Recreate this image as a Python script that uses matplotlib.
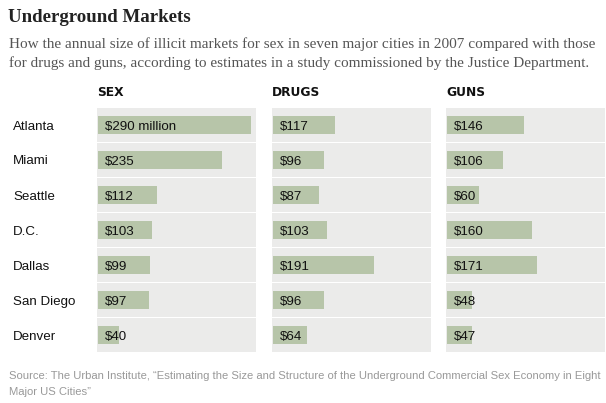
import matplotlib.pyplot as plt

cities = ['Atlanta', 'Miami', 'Seattle', 'D.C.', 'Dallas', 'San Diego', 'Denver']
sex = [290, 235, 112, 103, 99, 97, 40]
drugs = [117, 96, 87, 103, 191, 96, 64]
guns = [146, 106, 60, 160, 171, 48, 47]
headers = ['SEX', 'DRUGS', 'GUNS']

W, H = 606, 403
fig = plt.figure(figsize=(W / 100, H / 100), dpi=100)
fig.patch.set_facecolor('white')

bar_col = '#b7c5a9'
bg_col = '#ebebea'

def px(x, y):
    # pixel coords -> figure fraction
    return x / W, 1 - y / H

# title + subtitle
fig.text(*px(8, 17), 'Underground Markets', family='Liberation Serif', weight='bold',
         fontsize=13.6, color='#222222', va='center')
fig.text(*px(9, 44), 'How the annual size of illicit markets for sex in seven major cities in 2007 compared with those',
         family='Liberation Serif', fontsize=11, color='#555555', va='center')
fig.text(*px(9, 63), 'for drugs and guns, according to estimates in a study commissioned by the Justice Department.',
         family='Liberation Serif', fontsize=11, color='#555555', va='center')

top, rowh = 107, 35
lefts = [97, 272, 446]
panel_w = 159

for i, c in enumerate(cities):
    fig.text(*px(13, top + rowh * i + 19.5), c, family='Liberation Sans', fontsize=9.6,
             color='#111111', va='center')

for vals, name, left in zip([sex, drugs, guns], headers, lefts):
    x0, y1 = px(left, top + rowh * len(cities))
    ax = fig.add_axes([x0, y1, panel_w / W, rowh * len(cities) / H])
    ax.barh(range(len(cities)), [300] * len(cities), height=34 / 35, color=bg_col, left=0)
    ax.barh(range(len(cities)), vals, height=18 / 35, color=bar_col, left=1.5)
    for i, v in enumerate(vals):
        lab = '$%d million' % v if (name == 'SEX' and i == 0) else '$%d' % v
        ax.annotate(lab, (0, i + 0.07), xytext=(6, 0), textcoords='offset points',
                    va='center', ha='left', family='Liberation Sans', fontsize=9.6,
                    color='#111111')
    ax.set_xlim(0, 300)
    ax.set_ylim(len(cities) - 0.5, -0.5)
    ax.axis('off')
    fig.text(*px(left, 93), name, family='DejaVu Sans', weight='bold', fontsize=8.8,
             color='#111111', va='center')

src_font = 'Liberation Sans'
fig.text(*px(9, 376), 'Source: The Urban Institute, \u201cEstimating the Size and Structure of the Underground Commercial Sex Economy in Eight',
         family=src_font, fontsize=8.1, color='#999999', va='center')
fig.text(*px(9, 392), 'Major US Cities\u201d', family=src_font, fontsize=8.1, color='#999999', va='center')

fig.savefig('out.png', dpi=100, facecolor='white')
